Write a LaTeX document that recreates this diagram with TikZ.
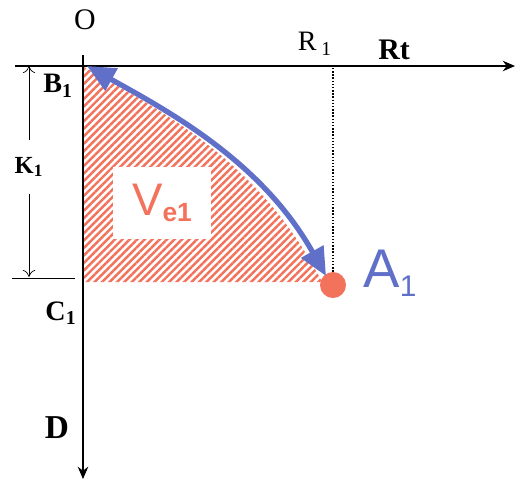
\documentclass[tikz,border=0pt]{standalone}
\usepackage{fontspec}
\setmainfont{Liberation Serif}
\setsansfont{Liberation Sans}
\usetikzlibrary{arrows.meta,patterns.meta}
\definecolor{VolBlue}{RGB}{96,112,200}
\definecolor{VolRed}{RGB}{242,114,92}

\begin{document}
\begin{tikzpicture}[x=0.02cm, y=-0.02cm, >=Stealth]
          \useasboundingbox (0,0) rectangle (516,481);
          \tikzset{axislbl/.style={inner sep=0pt, font=\bfseries\fontsize{16}{16}\selectfont},
                   dimarrow/.style={thin, -{To[length=4pt,width=7pt]}}}
          % axes
          \coordinate (O) at (83,66);
          \coordinate (Rstart) at (15,66);
          \coordinate (Rend) at (515,66);
          \coordinate (Dstart) at (83,55);
          \coordinate (Dend) at (83,479);
          \draw[semithick, -{Stealth[length=7pt,width=6pt]}] (Rstart) -- (Rend);
          \draw[semithick, -{Stealth[length=7pt,width=6pt]}] (Dstart) -- (Dend);
          \node[inner sep=0pt, font=\fontsize{17}{17}\selectfont] (olbl) at (85,20) {O};
          \node[inner sep=0pt, font=\fontsize{16}{16}\selectfont] (r1lbl) at (315,44) {R\,\textsubscript{1}};
          \node[axislbl, font=\bfseries\fontsize{17}{17}\selectfont] (rtlbl) at (394,50) {Rt};
          \node[axislbl] (b1lbl) at (58,86) {B\textsubscript{1}};
          \node[axislbl] (c1lbl) at (61,313) {C\textsubscript{1}};
          \node[axislbl, font=\bfseries\fontsize{19}{19}\selectfont] (dlbl) at (57,428) {D};
          % hatched volume
          \fill[pattern={Lines[angle=45,distance=3pt,line width=1.4pt]}, pattern color=VolRed]
               (84,67) .. controls (170,115) and (262,165) .. (322,282) -- (84,282) -- cycle;
          \node[fill=white, minimum width=1.98cm, minimum height=1.44cm, text=VolRed,
                font=\sffamily\fontsize{26}{26}\selectfont] (ve1) at (162,203)
                {V\raisebox{-3pt}{\bfseries\fontsize{15}{15}\selectfont e1}};
          % K1 dimension
          \coordinate (btop) at (29,66);
          \coordinate (cbot) at (29,277);
          \coordinate (ctickl) at (12,278);
          \coordinate (ctickr) at (75,278);
          \draw[thin] (ctickl) -- (ctickr);
          \node[axislbl, font=\bfseries\fontsize{14}{14}\selectfont, minimum height=1.06cm] (k1lbl) at (29,167) {K\textsubscript{1}};
          \draw[dimarrow] (k1lbl) -- (btop);
          \draw[dimarrow] (k1lbl) -- (cbot);
          % point A1
          \coordinate (r1foot) at (333,68);
          \node[circle, fill=VolRed, minimum size=0.52cm, inner sep=0pt] (a1dot) at (333,285) {};
          \draw[densely dotted, thick] (r1foot) -- (a1dot.north);
          \node[inner sep=0pt, text=VolBlue, font=\sffamily\fontsize{31}{31}\selectfont] (a1lbl) at (390,273)
                {A\raisebox{-5pt}{\fontsize{17}{17}\selectfont 1}};
          % trajectory
          \coordinate (trstart) at (87,66);
          \coordinate (trend) at (326,276);
          \draw[VolBlue, line width=3pt, {Triangle[length=16pt,width=14pt]}-{Triangle[length=16pt,width=14pt]}]
               (trstart) .. controls (170,112) and (262,162) .. (trend);
        \end{tikzpicture}
\end{document}
